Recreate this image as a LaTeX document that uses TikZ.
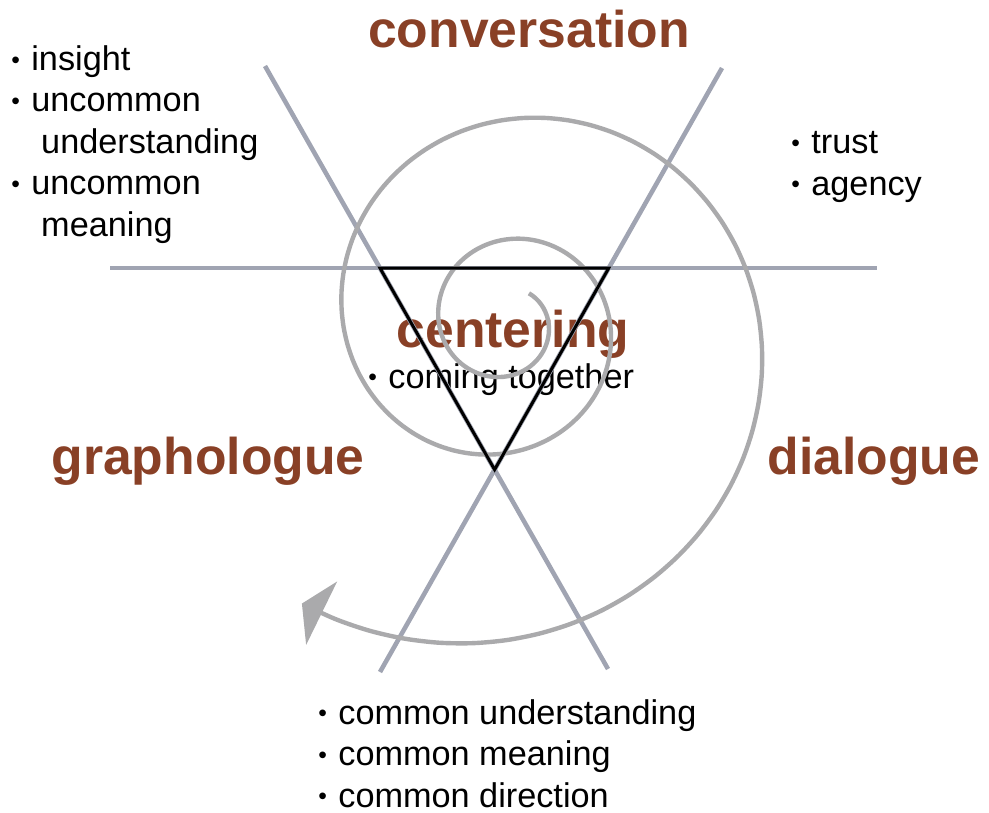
\documentclass[tikz,border=0pt]{standalone}
\usepackage{fontspec}
\setmainfont{Liberation Sans}
\usetikzlibrary{arrows.meta}
\definecolor{titlebrown}{RGB}{137,64,38}
\definecolor{raygray}{RGB}{160,164,178}
\definecolor{swirlgray}{RGB}{170,170,172}
\newcommand{\bul}{\makebox[11.4pt][l]{\raisebox{1.2pt}{\fontsize{14}{14}\selectfont\textbullet}}}
\tikzset{
    heading/.style={
        font=\fontsize{29.4}{32}\selectfont\bfseries,
        text=titlebrown,
        inner sep=0pt,
        anchor=base,
    },
    bullets/.style={
        font=\fontsize{19.5}{23.6}\selectfont,
        align=left,
        inner sep=0pt,
        anchor=base west,
    },
    ray/.style={draw=raygray, line width=2.6pt},
    swirl/.style={draw=swirlgray, line width=2.5pt},
    tri/.style={draw=black, line width=1.7pt, line join=miter},
}

\begin{document}
\begin{tikzpicture}[x=0.02cm, y=-0.02cm,
        declare function={swr(\t)=104.3*exp(0.0024778*(\t-360));}]
        \useasboundingbox (0,0) rectangle (989,812);
        \node[heading] (conv) at (529,47) {conversation};
        \node[heading] (graph) at (208,474) {graphologue};
        \node[heading] (dial) at (874,474) {dialogue};
        \node[heading] (cent) at (513,347) {centering};
        \node[bullets] (together) at (368,388) {\bul coming together};
        \node[bullets] (leftlist) at (11,236) {\bul insight\\
        \bul uncommon\\
        \hspace*{17pt}understanding\\
        \bul uncommon\\
        \hspace*{17pt}meaning};
        \node[bullets] (rightlist) at (791,195) {\bul trust\\
        \bul agency};
        \node[bullets] (bottomlist) at (318,807) {\bul common understanding\\
        \bul common meaning\\
        \bul common direction};
        \coordinate (h1) at (110,268);
        \coordinate (h2) at (877,268);
        \coordinate (d1) at (265,66);
        \coordinate (d2) at (608,669);
        \coordinate (e1) at (722,68);
        \coordinate (e2) at (380,672);
        \draw[ray] (h1) -- (h2);
        \draw[ray] (d1) -- (d2);
        \draw[ray] (e1) -- (e2);
        \draw[swirl, -{Triangle[length=0.44cm, width=1.4cm]}]
            plot[smooth, domain=-52:846, samples=150]
            ({505.7+swr(\x)*cos(\x)}, {323+swr(\x)*sin(\x)});
        \coordinate (tl) at (intersection of h1--h2 and d1--d2);
        \coordinate (tr) at (intersection of h1--h2 and e1--e2);
        \coordinate (bt) at (intersection of d1--d2 and e1--e2);
        \draw[tri] (tl) -- (tr) -- (bt) -- cycle;
\end{tikzpicture}
\end{document}
